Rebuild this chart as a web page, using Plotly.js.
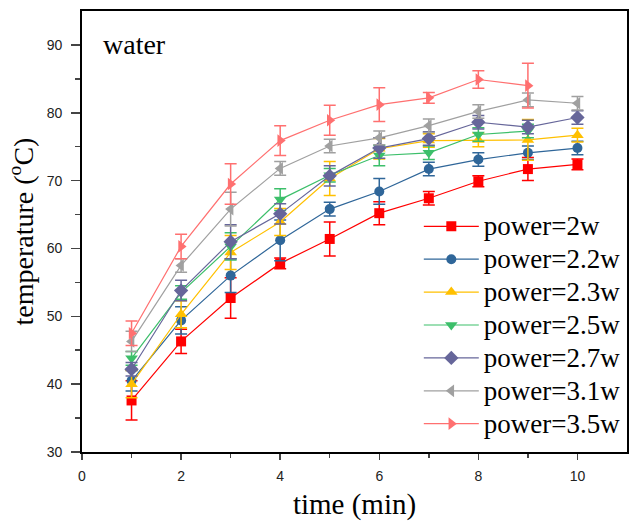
<!DOCTYPE html>
<html>
<head>
<meta charset="utf-8">
<script src="https://cdn.plot.ly/plotly-3.0.1.min.js"></script>
<style>html,body{margin:0;padding:0;background:#fff;}#chart{width:631px;height:524px;}</style>
</head>
<body>
<div id="chart"></div>
<script>
var time = [1, 2, 3, 4, 5, 6, 7, 8, 9, 10];
var names = ["power=2w", "power=2.2w", "power=2.3w", "power=2.5w", "power=2.7w", "power=3.1w", "power=3.5w"];
var p20 = [37.6, 46.3, 52.7, 57.8, 61.4, 65.2, 67.4, 69.9, 71.7, 72.4];
var p22 = [40.5, 49.4, 56.0, 61.2, 65.8, 68.4, 71.7, 73.1, 74.1, 74.8];
var p23 = [40.0, 50.3, 59.4, 63.9, 70.3, 74.7, 75.9, 76.0, 76.0, 76.7];
var p25 = [43.8, 53.5, 60.3, 67.2, 70.8, 73.7, 74.1, 76.8, 77.3];
var p27 = [42.2, 53.8, 61.0, 65.1, 70.7, 74.8, 76.2, 78.6, 77.9, 79.3];
var p31 = [46.3, 57.5, 65.8, 71.8, 75.1, 76.3, 78.1, 80.2, 81.9, 81.4];
var p35 = [47.5, 60.3, 69.5, 75.9, 78.9, 81.2, 82.2, 84.9, 84.0];
var e20 = [2.9, 1.8, 3.0, 0.8, 2.5, 1.7, 1.0, 0.8, 1.7, 0.8];
var e22 = [1.5, 2.0, 2.5, 3.0, 1.0, 1.9, 1.0, 1.0, 1.0, 1.0];
var e23 = [2.0, 2.0, 2.5, 2.0, 2.5, 1.5, 1.0, 1.0, 3.0, 1.0];
var e25 = [1.0, 1.0, 2.0, 1.6, 1.0, 1.5, 1.0, 1.0, 1.0];
var e27 = [1.0, 1.5, 2.5, 1.5, 1.5, 1.5, 1.0, 1.0, 1.0, 1.0];
var e31 = [1.5, 1.0, 2.5, 1.0, 1.0, 1.0, 1.0, 1.0, 1.0, 1.0];
var e35 = [1.8, 1.8, 3.0, 2.2, 2.2, 2.5, 0.8, 1.3, 3.3];

var series = [p20, p22, p23, p25, p27, p31, p35];
var errs = [e20, e22, e23, e25, e27, e31, e35];
var colors = ["#FF0000", "#2F6699", "#FFC000", "#3CBF6A", "#66669A", "#A0A0A0", "#FF7070"];
var symbols = ["square", "circle", "triangle-up", "triangle-down", "diamond", "triangle-left", "triangle-right"];
var sizes = [10, 10, 11, 11, 11, 11, 11];
var SERIF = "Liberation Serif, Times New Roman, serif";
var SANS = "Liberation Sans, Arial, sans-serif";

var traces = series.map(function (ys, i) {
  return {
    x: time.slice(0, ys.length),
    y: ys,
    name: "<span style='font-size:27px'>" + names[i] + "</span>",
    type: "scatter",
    mode: "lines+markers",
    line: {color: colors[i], width: 1.2},
    marker: {symbol: symbols[i], size: sizes[i], color: colors[i]},
    error_y: {type: "data", array: errs[i], visible: true, color: colors[i], thickness: 1.5, width: 6}
  };
});

var layout = {
  width: 631, height: 524,
  margin: {l: 82, r: 4, t: 11, b: 72},
  font: {family: SERIF, color: "#000"},
  paper_bgcolor: "#fff", plot_bgcolor: "#fff",
  showlegend: true,
  legend: {
    x: 0.618, y: 0.014, xanchor: "left", yanchor: "bottom",
    bgcolor: "rgba(0,0,0,0)",
    itemwidth: 55,
    font: {family: SERIF, size: 23, color: "#000"},
    tracegroupgap: 0
  },
  xaxis: {
    range: [0, 11], tickvals: [0, 2, 4, 6, 8, 10], ticks: "outside", ticklen: 6, tickwidth: 1.5,
    minor: {tickvals: [1, 3, 5, 7, 9], ticks: "outside", ticklen: 4, tickwidth: 1.5},
    showline: true, linewidth: 1.8, linecolor: "#000", mirror: true, showgrid: false, zeroline: false,
    ticklabelstandoff: 4,
    tickfont: {family: SANS, size: 14, color: "#222"},
    title: {text: "time (min)", font: {family: SERIF, size: 29, color: "#000"}, standoff: 11}
  },
  yaxis: {
    range: [30, 95], tickvals: [30, 40, 50, 60, 70, 80, 90], ticks: "outside", ticklen: 9, tickwidth: 1.5,
    minor: {tickvals: [35, 45, 55, 65, 75, 85], ticks: "outside", ticklen: 5, tickwidth: 1.5},
    showline: true, linewidth: 1.8, linecolor: "#000", mirror: true, showgrid: false, zeroline: false,
    ticklabelstandoff: 6,
    tickfont: {family: SANS, size: 14, color: "#222"},
    title: {text: "temperature (<sup>o</sup>C)", font: {family: SERIF, size: 28, color: "#000"}, standoff: 5}
  },
  annotations: [{
    text: "water", xref: "paper", yref: "paper", x: 0.034, y: 0.925, xanchor: "left", yanchor: "middle",
    showarrow: false, font: {family: SERIF, size: 28, color: "#000"}
  }]
};

Plotly.newPlot("chart", traces, layout, {displayModeBar: false, staticPlot: true});
</script>
</body>
</html>
